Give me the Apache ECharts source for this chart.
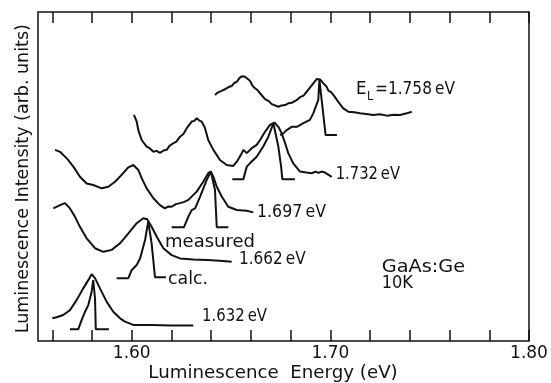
<!DOCTYPE html>
<html>
<head>
<meta charset="utf-8">
<script src="https://cdn.jsdelivr.net/npm/echarts@6/dist/echarts.min.js"></script>
<style>
  html, body { margin: 0; padding: 0; background: #fff; }
  #chart { width: 551px; height: 383px; }
</style>
</head>
<body>
<div id="chart"></div>
<script>
// GaAs:Ge luminescence spectra at 10 K for several excitation energies E_L.
// Each pair is [luminescence energy (eV), intensity (arb. units, offset per spectrum)].

const measured1758 = [
  [1.6419, 74.8], [1.6430, 75.4], [1.6440, 75.1], [1.6452, 76.0], [1.6461, 75.8],
  [1.6472, 76.6], [1.6480, 76.4], [1.6492, 77.3], [1.6503, 77.5], [1.6515, 78.4],
  [1.6522, 78.1], [1.6529, 78.8], [1.6542, 79.9], [1.6554, 80.5], [1.6570, 80.3],
  [1.6595, 79.1], [1.6608, 77.6], [1.6621, 76.8], [1.6634, 76.2], [1.6646, 75.3],
  [1.6671, 73.5], [1.6690, 72.9], [1.6705, 72.0], [1.6738, 71.2], [1.6755, 71.6],
  [1.6772, 71.7], [1.6790, 72.3], [1.6805, 72.4], [1.6830, 73.2], [1.6847, 74.1],
  [1.6865, 74.6], [1.6881, 75.8], [1.6914, 78.3], [1.6931, 79.6], [1.6948, 79.5],
  [1.6968, 78.1], [1.6980, 77.4], [1.6990, 76.1], [1.7002, 75.7], [1.7015, 74.8],
  [1.7040, 72.7], [1.7065, 70.7], [1.7090, 69.7], [1.7120, 69.5], [1.7149, 69.2],
  [1.7180, 69.0], [1.7216, 68.7], [1.7250, 68.9], [1.7284, 68.5], [1.7320, 68.8],
  [1.7351, 68.7], [1.7384, 69.2], [1.7410, 69.7]
];
const calc1758 = [
  [1.6747, 62.6], [1.6763, 63.1], [1.6780, 64.1], [1.6805, 65.1], [1.6831, 65.1],
  [1.6864, 66.2], [1.6897, 67.2], [1.6914, 69.2], [1.6939, 73.3], [1.6945, 79.3],
  [1.6976, 62.6], [1.7033, 62.6]
];

const measured1732 = [
  [1.6011, 68.7], [1.6025, 66.7], [1.6033, 64.1], [1.6050, 61.1], [1.6075, 59.1],
  [1.6090, 58.6], [1.6109, 57.5], [1.6125, 57.8], [1.6142, 57.2], [1.6160, 57.9],
  [1.6176, 58.1], [1.6190, 59.3], [1.6209, 60.1], [1.6225, 60.6], [1.6243, 62.1],
  [1.6260, 62.9], [1.6277, 64.7], [1.6302, 66.7], [1.6315, 66.9], [1.6327, 67.7],
  [1.6340, 67.0], [1.6352, 66.7], [1.6369, 64.7], [1.6385, 61.1], [1.6411, 58.1],
  [1.6444, 55.0], [1.6478, 53.5], [1.6511, 53.2], [1.6529, 54.5], [1.6554, 57.1],
  [1.6562, 58.1], [1.6579, 57.1], [1.6604, 58.6], [1.6629, 59.6], [1.6646, 61.1],
  [1.6671, 63.6], [1.6696, 65.7], [1.6718, 66.4], [1.6738, 65.1], [1.6755, 63.1],
  [1.6772, 60.1], [1.6788, 57.1], [1.6813, 54.0], [1.6847, 51.5], [1.6880, 51.2],
  [1.6906, 51.0], [1.6925, 51.5], [1.6940, 51.1], [1.6955, 51.5], [1.6973, 51.2],
  [1.7007, 49.9]
];
const calc1732 = [
  [1.6506, 49.2], [1.6562, 49.2], [1.6579, 53.0], [1.6595, 54.0], [1.6629, 56.0],
  [1.6662, 59.1], [1.6688, 62.1], [1.6713, 66.2], [1.6738, 59.1], [1.6752, 53.0],
  [1.6758, 49.2], [1.6822, 49.2]
];

const measured1697 = [
  [1.5614, 58.1], [1.5639, 57.5], [1.5673, 55.5], [1.5706, 53.0], [1.5739, 49.9],
  [1.5773, 47.9], [1.5806, 47.4], [1.5849, 46.4], [1.5882, 46.9], [1.5916, 48.4],
  [1.5949, 50.5], [1.5983, 52.8], [1.6008, 53.5], [1.6033, 52.0], [1.6050, 49.5],
  [1.6075, 46.4], [1.6109, 43.4], [1.6142, 41.3], [1.6167, 40.3], [1.6185, 40.9],
  [1.6201, 40.8], [1.6222, 41.6], [1.6243, 41.9], [1.6265, 42.3], [1.6285, 42.9],
  [1.6327, 45.4], [1.6360, 48.4], [1.6385, 51.0], [1.6398, 51.5], [1.6411, 49.9],
  [1.6428, 46.9], [1.6453, 43.9], [1.6486, 40.8], [1.6529, 39.8], [1.6579, 39.6],
  [1.6612, 39.1]
];
const calc1697 = [
  [1.6201, 34.6], [1.6263, 34.6], [1.6285, 37.8], [1.6302, 39.8], [1.6319, 40.3],
  [1.6344, 43.9], [1.6377, 48.9], [1.6398, 51.5], [1.6419, 45.9], [1.6428, 34.6],
  [1.6486, 34.6]
];

const measured1662 = [
  [1.5605, 40.3], [1.5639, 41.3], [1.5664, 41.9], [1.5689, 40.3], [1.5714, 37.8],
  [1.5739, 34.7], [1.5773, 31.2], [1.5815, 28.2], [1.5857, 27.1], [1.5899, 27.7],
  [1.5941, 29.7], [1.5983, 32.7], [1.6025, 35.8], [1.6058, 37.3], [1.6078, 37.0],
  [1.6100, 34.7], [1.6126, 31.7], [1.6159, 28.2], [1.6201, 26.1], [1.6243, 25.1],
  [1.6310, 24.8], [1.6377, 24.6], [1.6444, 24.4], [1.6503, 24.1]
];
const calc1662 = [
  [1.5924, 19.1], [1.5983, 19.1], [1.6000, 21.6], [1.6025, 23.1], [1.6042, 25.1],
  [1.6067, 30.7], [1.6083, 36.3], [1.6100, 29.7], [1.6117, 19.4], [1.6172, 19.4]
];

const measured1632 = [
  [1.5600, 6.9], [1.5622, 7.2], [1.5655, 7.9], [1.5689, 9.4], [1.5723, 12.5],
  [1.5756, 16.0], [1.5781, 18.5], [1.5798, 20.3], [1.5815, 19.1], [1.5840, 16.0],
  [1.5874, 11.9], [1.5907, 8.9], [1.5941, 6.9], [1.5966, 5.9], [1.6008, 4.9],
  [1.6100, 4.9], [1.6200, 4.7], [1.6310, 4.7]
];
const calc1632 = [
  [1.5689, 3.6], [1.5731, 3.6], [1.5748, 6.4], [1.5765, 8.9], [1.5781, 10.9],
  [1.5798, 15.0], [1.5806, 18.5], [1.5815, 13.0], [1.5819, 3.6], [1.5885, 3.6]
];

// Energy axis ticks and labels
const tickEnergies = [1.56, 1.58, 1.60, 1.62, 1.64, 1.66, 1.68, 1.70, 1.72, 1.74, 1.76, 1.78, 1.80];
const labelEnergies = [1.60, 1.70, 1.80];

const allSeries = [
  measured1758, calc1758, measured1732, calc1732, measured1697, calc1697,
  measured1662, calc1662, measured1632, calc1632
];

const FONT = '"DejaVu Sans", sans-serif';
const INK = '#111';
const THIN = '\u2009';

// Horizontal stretch so a string spans a given width at a given size
const measureCtx = document.createElement('canvas').getContext('2d');
function stretch(str, size, width) {
  measureCtx.font = size + 'px "DejaVu Sans"';
  return width / measureCtx.measureText(str).width;
}

function label(str, x, y, size, width, extra) {
  return Object.assign({
    type: 'text',
    x: x, y: y,
    scaleX: stretch(str, size, width),
    style: {
      text: str, fill: INK, font: size + 'px ' + FONT,
      textAlign: 'left', textVerticalAlign: 'middle'
    },
    silent: true
  }, extra || {});
}

const annotations = [
  label('E', 356, 90, 17, 10.5),
  label('L', 367, 97, 12, 6.2),
  label('=1.758' + THIN + 'eV', 375, 90, 17, 80),
  label('1.732' + THIN + 'eV', 335.7, 174.5, 17, 64.3),
  label('1.697' + THIN + 'eV', 257, 212.5, 17, 69),
  label('measured', 165, 243, 17, 90),
  label('1.662' + THIN + 'eV', 239, 259.5, 17, 66.7),
  label('calc.', 168, 279.5, 17, 40),
  label('1.632' + THIN + 'eV', 202, 316.5, 17, 65),
  label('GaAs:Ge', 381.7, 268, 17, 83.3),
  label('10K', 381.7, 284, 17, 31.3),
  // axis titles
  label('Luminescence  Energy (eV)', 148.3, 373.5, 17, 249.4),
  Object.assign(label('Luminescence Intensity (arb. units)', 23.5, 178.7, 17, 309), {
    rotation: Math.PI / 2,
    style: {
      text: 'Luminescence Intensity (arb. units)', fill: INK, font: '17px ' + FONT,
      textAlign: 'center', textVerticalAlign: 'middle'
    }
  })
];

const tickCfg = {
  show: true, inside: true, length: 11,
  customValues: tickEnergies,
  lineStyle: { color: INK, width: 1.5 }
};

const chart = echarts.init(document.getElementById('chart'), null, { renderer: 'canvas' });
chart.setOption({
  backgroundColor: '#fff',
  animation: false,
  grid: {
    left: 38, right: 22, top: 12, bottom: 42,
    show: true, borderColor: INK, borderWidth: 1.5, backgroundColor: 'transparent'
  },
  xAxis: [
    {
      type: 'value', position: 'bottom', min: 1.5528, max: 1.80,
      axisLine: { show: false },
      axisTick: tickCfg,
      splitLine: { show: false },
      axisLabel: {
        show: true, customValues: labelEnergies, margin: 4,
        fontFamily: FONT, fontSize: 17, color: INK,
        formatter: v => v.toFixed(2)
      }
    },
    {
      type: 'value', position: 'top', min: 1.5528, max: 1.80,
      axisLine: { show: false },
      axisTick: tickCfg,
      splitLine: { show: false },
      axisLabel: { show: false }
    }
  ],
  yAxis: { type: 'value', min: 0, max: 100, show: false },
  series: allSeries.map(d => ({
    type: 'line', data: d, xAxisIndex: 0, symbol: 'none', smooth: false,
    lineStyle: { color: INK, width: 2 }, silent: true
  })),
  graphic: annotations
});
</script>
</body>
</html>
